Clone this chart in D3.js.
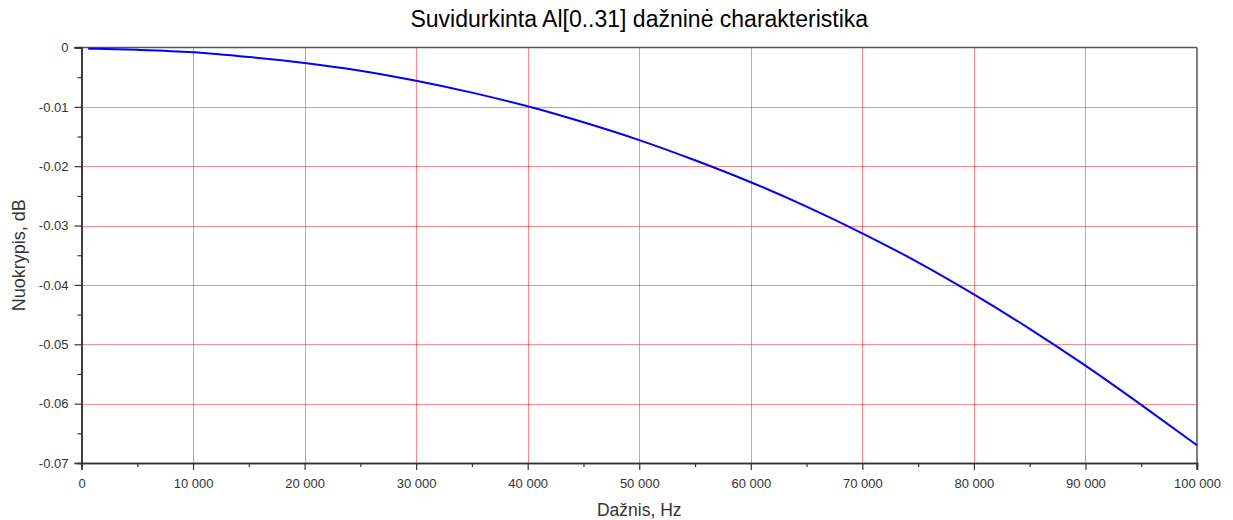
<!DOCTYPE html>
<html>
<head>
<meta charset="utf-8">
<script src="https://cdnjs.cloudflare.com/ajax/libs/d3/7.8.5/d3.min.js"></script>
<style>
  html, body { margin: 0; padding: 0; background: #fff; }
  svg { display: block; font-family: "Liberation Sans", Arial, sans-serif; }
</style>
</head>
<body>
<svg id="chart" width="1233" height="520"></svg>
<script>
// ---- data ----
const freqHz = [600, 5000, 10000, 15000, 20000, 25000, 30000, 35000, 40000, 45000, 50000,
                55000, 60000, 65000, 70000, 75000, 80000, 85000, 90000, 95000, 100000];
const deviationDb = [-0.0002, -0.0004, -0.0008, -0.0016, -0.0026, -0.0039, -0.0056, -0.0076, -0.0099, -0.0126, -0.0156,
                     -0.0190, -0.0227, -0.0268, -0.0313, -0.0362, -0.0416, -0.0474, -0.0536, -0.0602, -0.0670];
const xTickValues = [0, 10000, 20000, 30000, 40000, 50000, 60000, 70000, 80000, 90000, 100000];
const xTickLabels = ["0", "10 000", "20 000", "30 000", "40 000", "50 000", "60 000", "70 000", "80 000", "90 000", "100 000"];
const xMinorTicks = [5000, 15000, 25000, 35000, 45000, 55000, 65000, 75000, 85000, 95000];
const yTickValues = [0, -0.01, -0.02, -0.03, -0.04, -0.05, -0.06, -0.07];
const yTickLabels = ["0", "-0.01", "-0.02", "-0.03", "-0.04", "-0.05", "-0.06", "-0.07"];
const yMinorTicks = [-0.005, -0.015, -0.025, -0.035, -0.045, -0.055, -0.065];
const titleText = "Suvidurkinta Al[0..31] dažninė charakteristika";
const xTitle = "Dažnis, Hz";
const yTitle = "Nuokrypis, dB";

// ---- layout ----
const pLeft = 81.5, pRight = 1197, pTop = 47.5, pBottom = 463;
const svg = d3.select("#chart");
const x = d3.scaleLinear().domain([0, 100000]).range([pLeft, pRight]);
const y = d3.scaleLinear().domain([-0.07, 0]).range([pBottom, pTop]);

// grid
const grid = svg.append("g").attr("stroke", "#ff0000").attr("stroke-width", 1)
  .attr("stroke-dasharray", "1,1").attr("opacity", 0.9);
grid.selectAll("line.v").data(xTickValues.slice(1, -1)).enter().append("line")
  .attr("x1", d => Math.round(x(d)) + 0.5).attr("x2", d => Math.round(x(d)) + 0.5)
  .attr("y1", pTop).attr("y2", pBottom);
grid.selectAll("line.h").data(yTickValues.slice(1, -1)).enter().append("line")
  .attr("y1", d => Math.round(y(d)) + 0.5).attr("y2", d => Math.round(y(d)) + 0.5)
  .attr("x1", pLeft).attr("x2", pRight);

// frame top / right
svg.append("line").attr("x1", pLeft - 7).attr("x2", pRight).attr("y1", pTop).attr("y2", pTop)
  .attr("stroke", "#555").attr("stroke-width", 1.5);
svg.append("line").attr("x1", pRight).attr("x2", pRight).attr("y1", pTop).attr("y2", pBottom + 7)
  .attr("stroke", "#555").attr("stroke-width", 1.5);

// axes
function styleAxis(g) {
  g.select(".domain").attr("stroke", "#333").attr("stroke-width", 1.5);
  g.selectAll(".tick line").attr("stroke", "#333").attr("stroke-width", 1.2);
  g.selectAll(".tick text").attr("fill", "#333").attr("font-size", 13)
    .attr("font-family", "'Liberation Sans', Arial, sans-serif");
}
const xAxis = svg.append("g").attr("transform", `translate(0,${pBottom})`)
  .call(d3.axisBottom(x).tickValues(xTickValues).tickSize(7).tickPadding(9)
    .tickFormat((d, i) => xTickLabels[i]));
styleAxis(xAxis);
const xMinor = svg.append("g").attr("transform", `translate(0,${pBottom})`)
  .call(d3.axisBottom(x).tickValues(xMinorTicks).tickSize(4).tickFormat(""));
styleAxis(xMinor);

const yAxis = svg.append("g").attr("transform", `translate(${pLeft},0)`)
  .call(d3.axisLeft(y).tickValues(yTickValues).tickSize(7).tickPadding(6)
    .tickFormat((d, i) => yTickLabels[i]));
styleAxis(yAxis);
const yMinor = svg.append("g").attr("transform", `translate(${pLeft},0)`)
  .call(d3.axisLeft(y).tickValues(yMinorTicks).tickSize(4).tickFormat(""));
styleAxis(yMinor);

// curve
const line = d3.line().x((d, i) => x(freqHz[i])).y(d => y(d)).curve(d3.curveMonotoneX);
svg.append("path").datum(deviationDb).attr("d", line)
  .attr("fill", "none").attr("stroke", "#0000ff").attr("stroke-width", 2);

// titles
svg.append("text").attr("x", (pLeft + pRight) / 2).attr("y", 27).attr("text-anchor", "middle")
  .attr("font-size", 23).attr("fill", "#000").text(titleText);
svg.append("text").attr("x", (pLeft + pRight) / 2).attr("y", 516).attr("text-anchor", "middle")
  .attr("font-size", 17.5).attr("fill", "#333").text(xTitle);
svg.append("text").attr("transform", `translate(25,${(pTop + pBottom) / 2}) rotate(-90)`)
  .attr("text-anchor", "middle").attr("font-size", 18).attr("fill", "#333").text(yTitle);
</script>
</body>
</html>
